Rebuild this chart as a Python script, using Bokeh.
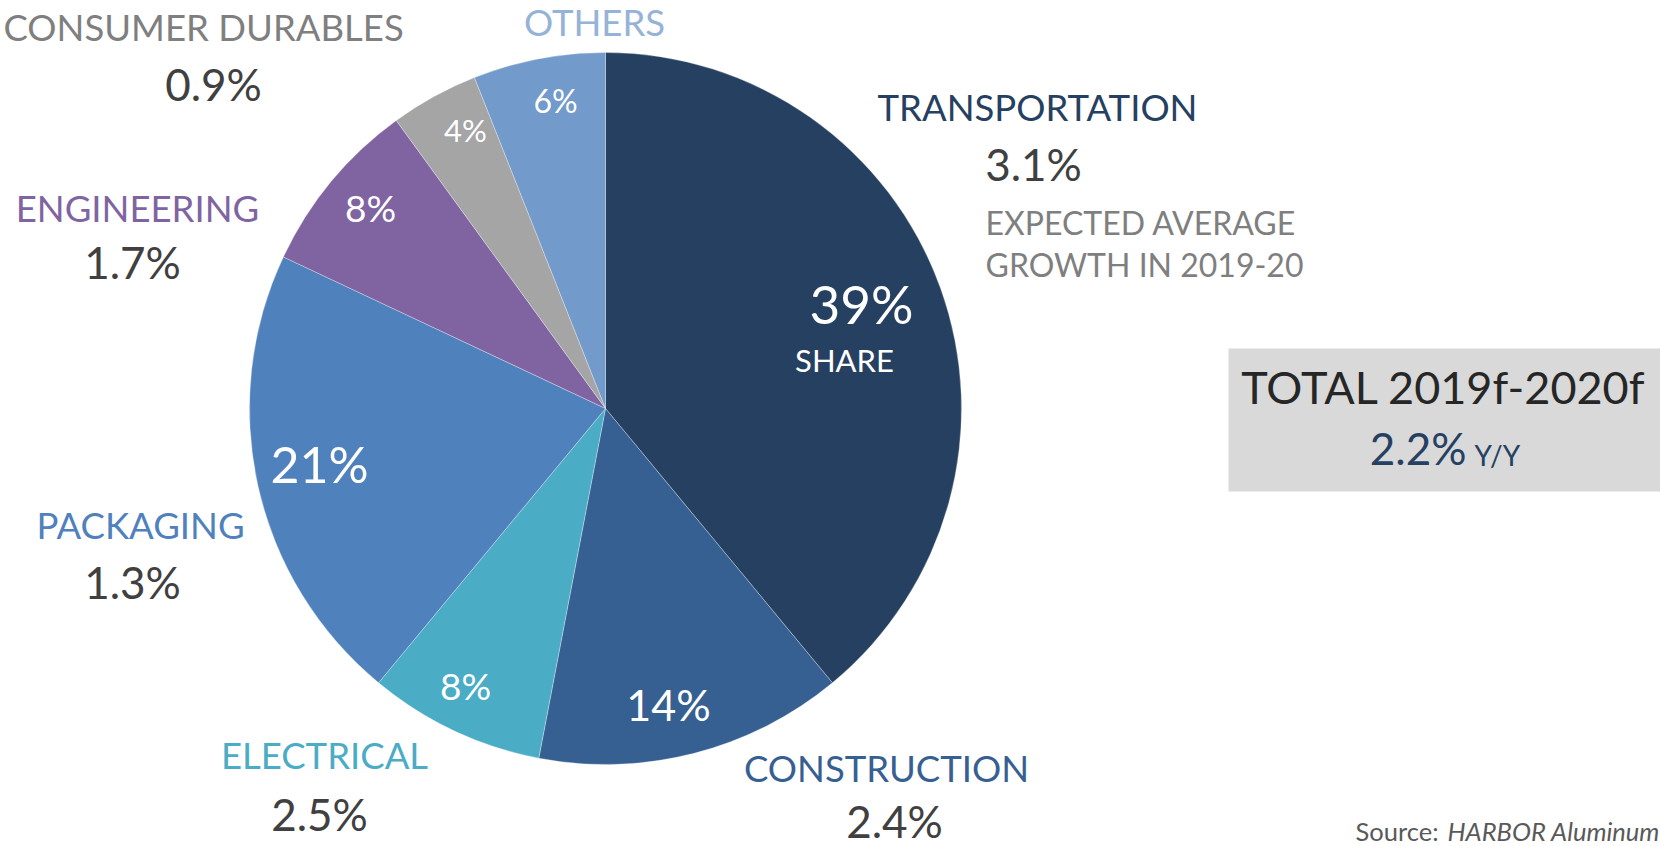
import math
from bokeh.plotting import figure
from bokeh.models import Range1d, ColumnDataSource
from bokeh.core.properties import value
from bokeh.embed import file_html
from bokeh.resources import INLINE

# ---------------- data ----------------
categories = ["TRANSPORTATION", "CONSTRUCTION", "ELECTRICAL", "PACKAGING",
              "ENGINEERING", "CONSUMER DURABLES", "OTHERS"]
share = [39, 14, 8, 21, 8, 4, 6]                     # % share of demand
growth = [3.1, 2.4, 2.5, 1.3, 1.7, 0.9, None]        # expected avg growth 2019-20, %
total_label = "TOTAL 2019f-2020f"
total_growth = 2.2
source_prefix = "Source:"
source_name = "HARBOR Aluminum"

# ---------------- styles ----------------
slice_colors = ["#264061", "#376092", "#4BACC6", "#4F81BD", "#8064A2", "#A5A5A5", "#729ACA"]
name_colors = ["#254061", "#376092", "#4BACC6", "#4F81BD", "#8064A2", "#7F7F7F", "#95B3D7"]
FONT = "Lato"
BASE_SHIFT = 0.42   # empirical: renderer places text this many em lower than the given y

W, H = 1660, 846
p = figure(width=W, height=H, output_backend="svg", toolbar_location=None,
           x_range=Range1d(0, W), y_range=Range1d(H, 0),
           min_border=0, outline_line_color=None, background_fill_color="white")
p.axis.visible = False
p.grid.visible = False


def txt(x, base_y, s, size, color, align="center", style="normal"):
    p.text(x=[x], y=[base_y - BASE_SHIFT * size], text=[s], text_color=color,
           text_font=value(FONT), text_font_size=f"{size}px", text_font_style=style,
           text_align=align, text_baseline="alphabetic")


# ---------------- pie ----------------
cx, cy, r = 605, 408, 356
total = sum(share)
starts, ends = [], []
cum = 0.0
for s in share:
    a0 = math.pi / 2 - 2 * math.pi * cum / total
    cum += s
    a1 = math.pi / 2 - 2 * math.pi * cum / total
    starts.append(a0)
    ends.append(a1)
src = ColumnDataSource(dict(cat=categories, share=share, start=starts, end=ends, color=slice_colors))
p.wedge(x=cx, y=cy, radius=r, start_angle="start", end_angle="end", direction="clock",
        fill_color="color", line_color="white", line_width=0.6, line_alpha=0.5, source=src)

# ---------------- slice labels (white) ----------------
# layout: (center x, baseline y, font size) for each slice label, in slice order
slice_label_pos = [(861, 325, 53), (668, 722, 43), (465, 701, 37), (319, 484, 50),
                   (370, 223, 37), (465, 143, 31), (555, 113, 32)]
for s, (x, y, fs) in zip(share, slice_label_pos):
    txt(x, y, f"{s}%", fs, "white")
txt(844, 373, "SHARE", 31, "white")

# ---------------- category names and growth ----------------
# layout: (name x, name baseline, name align, growth cx, growth baseline)
name_pos = [(1037, 122, "center", 1033, 182), (886, 783, "center", 894, 839),
            (324, 770, "center", 319, 832), (140, 540, "center", 132, 600),
            (137, 223, "center", 132, 280), (3, 42, "left", 213, 102),
            (594, 37, "center", None, None)]
for cat, g, col, (nx, ny, na, gx, gy) in zip(categories, growth, name_colors, name_pos):
    txt(nx, ny, cat, 36.5, col, align=na)
    if g is not None:
        txt(gx, gy, f"{g}%", 44, "#404040")

txt(985, 235, "EXPECTED AVERAGE", 32, "#7F7F7F", align="left")
txt(985, 277, "GROWTH IN 2019-20", 32, "#7F7F7F", align="left")

# ---------------- total box ----------------
p.quad(left=1228, right=1660, top=348, bottom=491, fill_color="#D9D9D9", line_color=None)
txt(1443, 405, total_label, 45, "#262626")
txt(1466, 466, f"{total_growth}%", 44, "#254061", align="right")
txt(1474, 466, "Y/Y", 28, "#254061", align="left")

# ---------------- source ----------------
txt(1438, 841, source_prefix, 25.5, "#595959", align="right")
txt(1447, 841, source_name, 25.5, "#595959", align="left", style="italic")

open("out.html", "w").write(file_html(p, INLINE))
